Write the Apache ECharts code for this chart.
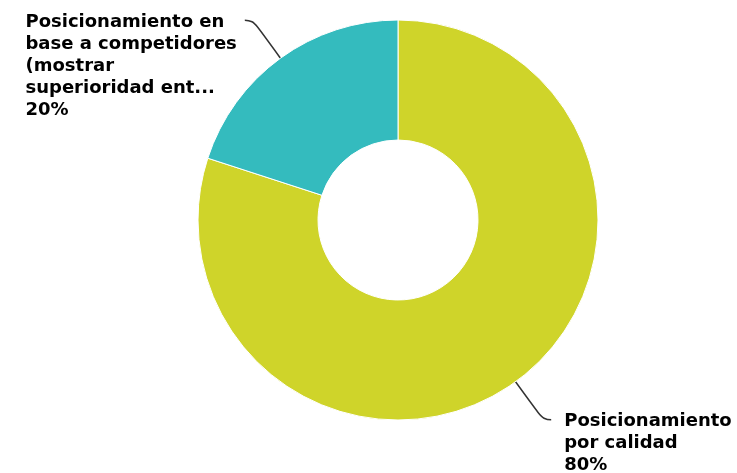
<!DOCTYPE html>
<html>
<head>
<meta charset="utf-8">
<script src="https://cdn.jsdelivr.net/npm/echarts@6/dist/echarts.min.js"></script>
<style>
  html, body { margin: 0; padding: 0; background: #fff; }
  #chart { width: 737px; height: 473px; }
</style>
</head>
<body>
<div id="chart"></div>
<script>
// Share of each positioning approach
const categories = [
  'Posicionamiento por calidad',
  'Posicionamiento en base a competidores (mostrar superioridad ent...'
];
// Label text as wrapped on the chart
const labelLines = [
  'Posicionamiento\npor calidad',
  'Posicionamiento en\nbase a competidores\n(mostrar\nsuperioridad ent...'
];
const values = [80, 20];
const colors = ['#CFD42A', '#34BBBE'];

const chart = echarts.init(document.getElementById('chart'), null, { renderer: 'canvas' });

const GAP_LEFT = 8;
const GAP_RIGHT = 13;
const LINE_H = 22;

chart.setOption({
  animation: false,
  series: [{
    type: 'pie',
    center: [398, 220],
    radius: [80, 200],
    startAngle: 90,
    clockwise: true,
    avoidLabelOverlap: false,
    itemStyle: { borderColor: '#fff', borderWidth: 1 },
    label: {
      show: true,
      position: 'outside',
      formatter: p => labelLines[p.dataIndex] + '\n' + p.value + '%',
      fontFamily: 'DejaVu Sans',
      fontWeight: 'bold',
      fontSize: 18,
      lineHeight: LINE_H,
      color: '#000',
      align: 'left'
    },
    labelLine: {
      show: true,
      length: 47,
      length2: 8,
      smooth: 0.5,
      lineStyle: { color: '#333', width: 1.5 }
    },
    labelLayout: function (params) {
      const pts = params.labelLinePoints;
      if (!pts) return {};
      const end = pts[pts.length - 1];
      const w = params.labelRect.width;
      const leftSide = end[0] < pts[0][0];
      return {
        x: leftSide ? end[0] - GAP_LEFT - w : end[0] + GAP_RIGHT,
        y: end[1] - LINE_H / 2 + 2,
        align: 'left',
        verticalAlign: 'top',
        labelLinePoints: pts
      };
    },
    data: categories.map((name, i) => ({
      name: name,
      value: values[i],
      itemStyle: { color: colors[i] }
    }))
  }]
});
</script>
</body>
</html>
